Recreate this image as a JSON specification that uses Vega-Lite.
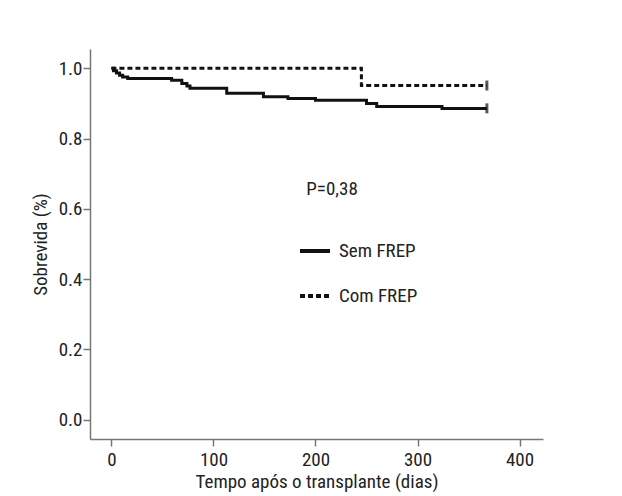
{
  "$schema": "https://vega.github.io/schema/vega-lite/v6.json",
  "width": 453,
  "height": 390,
  "autosize": {"type": "none"},
  "padding": {"left": 90, "top": 49, "right": 79, "bottom": 57},
  "background": "white",
  "config": {
    "font": "Roboto Condensed, Roboto",
    "view": {"stroke": null},
    "axis": {
      "domainColor": "#777777",
      "domainWidth": 1.5,
      "tickColor": "#777777",
      "tickWidth": 1.5,
      "tickSize": 7,
      "labelFontSize": 19,
      "labelColor": "#222222",
      "titleFontSize": 19,
      "titleFontWeight": "normal",
      "titleColor": "#222222",
      "grid": false
    }
  },
  "datasets": {
    "curves": [
      {"group": "Sem FREP", "day": 0, "surv": 1.0},
      {"group": "Sem FREP", "day": 2, "surv": 0.993},
      {"group": "Sem FREP", "day": 5, "surv": 0.987},
      {"group": "Sem FREP", "day": 8, "surv": 0.980},
      {"group": "Sem FREP", "day": 11, "surv": 0.975},
      {"group": "Sem FREP", "day": 16, "surv": 0.971},
      {"group": "Sem FREP", "day": 59, "surv": 0.966},
      {"group": "Sem FREP", "day": 69, "surv": 0.957},
      {"group": "Sem FREP", "day": 74, "surv": 0.950},
      {"group": "Sem FREP", "day": 77, "surv": 0.943},
      {"group": "Sem FREP", "day": 113, "surv": 0.929},
      {"group": "Sem FREP", "day": 149, "surv": 0.919},
      {"group": "Sem FREP", "day": 173, "surv": 0.914},
      {"group": "Sem FREP", "day": 200, "surv": 0.909},
      {"group": "Sem FREP", "day": 250, "surv": 0.900},
      {"group": "Sem FREP", "day": 260, "surv": 0.891},
      {"group": "Sem FREP", "day": 324, "surv": 0.886},
      {"group": "Sem FREP", "day": 368, "surv": 0.886},
      {"group": "Com FREP", "day": 0, "surv": 1.0},
      {"group": "Com FREP", "day": 245, "surv": 0.951},
      {"group": "Com FREP", "day": 368, "surv": 0.951}
    ],
    "censor": [
      {"group": "Sem FREP", "day": 368, "surv": 0.886},
      {"group": "Com FREP", "day": 368, "surv": 0.951}
    ],
    "note": [
      {"day": 191, "surv": 0.656, "label": "P=0,38"}
    ]
  },
  "layer": [
    {
      "data": {"name": "curves"},
      "mark": {"type": "line", "interpolate": "step-after", "strokeWidth": 3, "color": "#111111"},
      "encoding": {
        "x": {
          "field": "day", "type": "quantitative",
          "scale": {"domain": [-21, 423], "nice": false, "zero": false},
          "axis": {"values": [0, 100, 200, 300, 400], "title": "Tempo após o transplante (dias)", "labelPadding": 4, "titlePadding": 3}
        },
        "y": {
          "field": "surv", "type": "quantitative",
          "scale": {"domain": [-0.055, 1.055], "nice": false, "zero": false},
          "axis": {"values": [0, 0.2, 0.4, 0.6, 0.8, 1.0], "format": ".1f", "title": "Sobrevida (%)", "labelPadding": 1, "titlePadding": 8}
        },
        "strokeDash": {
          "field": "group", "type": "nominal",
          "scale": {"domain": ["Sem FREP", "Com FREP"], "range": [[1, 0], [5, 3]]},
          "legend": {
            "title": null,
            "orient": "none",
            "legendX": 208,
            "legendY": 185,
            "symbolType": "stroke",
            "symbolSize": 900,
            "symbolStrokeWidth": 4,
            "symbolStrokeColor": "#111111",
            "labelFontSize": 19,
            "labelColor": "#222222",
            "labelOffset": 7,
            "rowPadding": 18
          }
        }
      }
    },
    {
      "data": {"name": "censor"},
      "mark": {"type": "tick", "orient": "vertical", "size": 10, "thickness": 3, "color": "#111111"},
      "encoding": {
        "x": {"field": "day", "type": "quantitative"},
        "y": {"field": "surv", "type": "quantitative"}
      }
    },
    {
      "data": {"name": "note"},
      "mark": {"type": "text", "align": "left", "baseline": "middle", "fontSize": 19, "color": "#222222"},
      "encoding": {
        "x": {"field": "day", "type": "quantitative"},
        "y": {"field": "surv", "type": "quantitative"},
        "text": {"field": "label"}
      }
    }
  ]
}
